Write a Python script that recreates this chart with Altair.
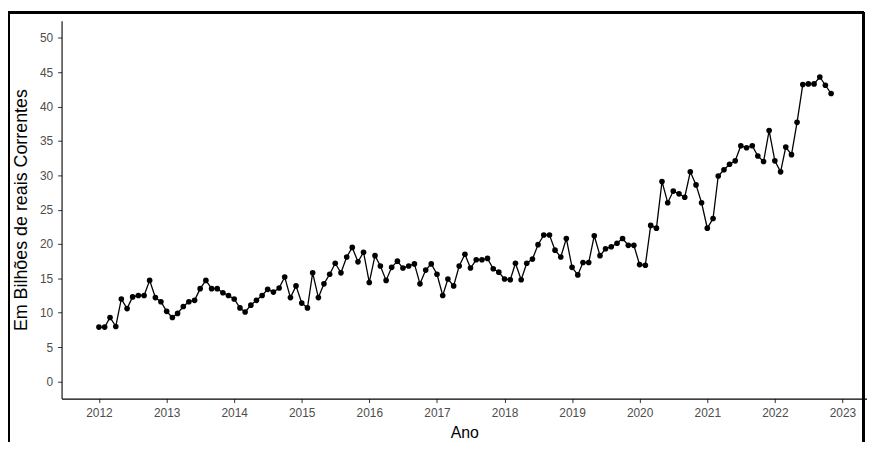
import altair as alt
import pandas as pd

# Monthly values (Em Bilhões de reais Correntes), Jan 2012 - Nov 2022
v2012 = [7.9, 7.9, 9.3, 8.0, 12.0, 10.6, 12.3, 12.5, 12.5, 14.7, 12.2, 11.6]
v2013 = [10.2, 9.3, 9.9, 10.9, 11.6, 11.8, 13.5, 14.7, 13.5, 13.5, 12.9, 12.5]
v2014 = [12.0, 10.7, 10.1, 11.1, 11.8, 12.5, 13.4, 13.0, 13.6, 15.2, 12.2, 13.9]
v2015 = [11.4, 10.7, 15.8, 12.2, 14.2, 15.6, 17.2, 15.8, 18.1, 19.5, 17.4, 18.8]
v2016 = [14.4, 18.3, 16.8, 14.7, 16.6, 17.5, 16.5, 16.8, 17.1, 14.2, 16.2, 17.1]
v2017 = [15.6, 12.5, 14.9, 13.9, 16.8, 18.5, 16.5, 17.7, 17.7, 17.9, 16.4, 15.9]
v2018 = [14.9, 14.8, 17.2, 14.8, 17.2, 17.8, 19.9, 21.3, 21.3, 19.1, 18.1, 20.8]
v2019 = [16.6, 15.5, 17.3, 17.3, 21.2, 18.3, 19.3, 19.6, 20.1, 20.8, 19.8, 19.8]
v2020 = [17.0, 16.9, 22.7, 22.3, 29.1, 26.0, 27.7, 27.3, 26.8, 30.5, 28.6, 26.0]
v2021 = [22.3, 23.7, 29.9, 30.8, 31.6, 32.1, 34.3, 34.0, 34.3, 32.8, 32.0, 36.5]
v2022 = [32.1, 30.5, 34.1, 33.0, 37.7, 43.2, 43.3, 43.3, 44.3, 43.1, 41.9]

values = (v2012 + v2013 + v2014 + v2015 + v2016 + v2017 + v2018 + v2019
          + v2020 + v2021 + v2022)
dates = pd.date_range("2012-01-01", periods=len(values), freq="MS").strftime("%Y-%m-%d").tolist()

tick_years = list(range(2012, 2024))
y_ticks = [0, 5, 10, 15, 20, 25, 30, 35, 40, 45, 50]

df = pd.DataFrame({"data": dates, "valor": values})

FONT = "Liberation Sans"

x_enc = alt.X(
    "data:T",
    scale=alt.Scale(
        type="utc",
        domain=[alt.DateTime(year=2011, month=6, date=13, utc=True),
                alt.DateTime(year=2023, month=5, date=14, utc=True)],
        nice=False,
    ),
    axis=alt.Axis(
        values=[alt.DateTime(year=y, month=1, date=1, utc=True) for y in tick_years],
        format="%Y",
        formatType="utc",
        title="Ano",
        grid=False,
        domainColor="black",
        domainWidth=1.1,
        tickColor="#333333",
        tickSize=4,
        labelPadding=5,
        labelFontSize=12,
        labelColor="#4D4D4D",
        labelFont=FONT,
        labelOverlap=False,
        titleFont=FONT,
        titleFontSize=16,
        titleFontWeight="normal",
        titleColor="black",
        titlePadding=6,
    ),
)

y_enc = alt.Y(
    "valor:Q",
    scale=alt.Scale(domain=[-2.5, 52.5], nice=False, zero=False),
    axis=alt.Axis(
        values=y_ticks,
        tickCount=11,
        title="Em Bilhões de reais Correntes",
        grid=False,
        domainColor="black",
        domainWidth=1.1,
        tickColor="#333333",
        tickSize=4,
        labelPadding=5,
        labelFontSize=12,
        labelColor="#4D4D4D",
        labelFont=FONT,
        labelOverlap=False,
        titleFont=FONT,
        titleFontSize=18,
        titleFontWeight="normal",
        titleColor="black",
        titlePadding=9,
    ),
)

base = alt.Chart(df)

line = base.mark_line(color="black", strokeWidth=1.3).encode(x=x_enc, y=y_enc)
pts = base.mark_circle(color="black", size=32, opacity=1).encode(x=x_enc, y=y_enc)

# frame of the figure (decorative border)
frame_top = base.mark_rule(color="black", strokeWidth=2).encode(
    x=alt.value(-54), x2=alt.value(808), y=alt.value(-8.5)
)
frame_left = base.mark_rule(color="black", strokeWidth=2).encode(
    x=alt.value(-53), y=alt.value(-9.5), y2=alt.value(440)
)
frame_right = base.mark_rule(color="black", strokeWidth=2).encode(
    x=alt.value(808), y=alt.value(-9.5), y2=alt.value(440)
)

chart = (
    alt.layer(line, pts, frame_top, frame_left, frame_right)
    .properties(
        width=812,
        height=381,
        padding={"left": 54, "top": 11, "right": 0, "bottom": 42},
        autosize=alt.AutoSizeParams(type="none"),
        background="white",
    )
    .configure_view(stroke=None)
)

chart.save("out.html", embed_options={"renderer": "svg", "actions": False})
